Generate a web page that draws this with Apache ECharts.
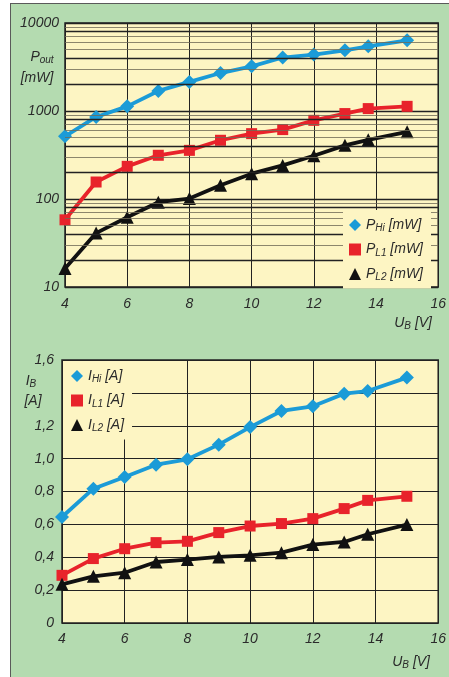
<!DOCTYPE html>
<html>
<head>
<meta charset="utf-8">
<script src="https://cdn.jsdelivr.net/npm/echarts@6/dist/echarts.min.js"></script>
<style>
html,body{margin:0;padding:0;background:#ffffff;}
#panel{position:absolute;left:10px;top:3px;width:445px;height:680px;background:#b4dbb0;border-left:1px solid #5a5a5a;border-top:1px solid #5a5a5a;}
#chart{position:absolute;left:0;top:0;width:449px;height:677px;}
</style>
</head>
<body>
<div id="panel"></div>
<div id="chart"></div>
<script>
// ---- data ----
var voltage = [4, 5, 6, 7, 8, 9, 10, 11, 12, 13, 13.75, 15];
var pHi = [516, 855, 1130, 1690, 2140, 2700, 3220, 4050, 4380, 4900, 5440, 6360];
var pL1 = [58, 156, 235, 314, 357, 465, 553, 615, 783, 935, 1065, 1130];
var pL2 = [16.2, 41, 62, 92, 101, 143, 194, 241, 310, 407, 470, 580];
var iHi = [0.645, 0.817, 0.888, 0.963, 0.996, 1.085, 1.192, 1.29, 1.318, 1.395, 1.411, 1.493];
var iL1 = [0.29, 0.392, 0.452, 0.489, 0.497, 0.55, 0.59, 0.605, 0.635, 0.696, 0.746, 0.771];
var iL2 = [0.235, 0.284, 0.306, 0.371, 0.386, 0.402, 0.412, 0.428, 0.477, 0.493, 0.54, 0.599];
var powerTicks = [10, 100, 1000, 10000];
var currentTicks = [0, 0.2, 0.4, 0.6, 0.8, 1.0, 1.2, 1.4, 1.6];
var voltageTicks = [4, 6, 8, 10, 12, 14, 16];
var gridStrong = [20, 40, 80, 200, 400, 800, 2000, 4000, 8000];
var gridWeak = [30, 50, 60, 70, 90, 300, 500, 600, 700, 900, 3000, 5000, 6000, 7000, 9000];

var FONT = '"Liberation Sans", Arial, sans-serif';
var TXT = '#2b2b2b';
var BLUE = '#1b9bd7', RED = '#e8232b', BLACK = '#111111';
var YELLOW = '#fdf5c3';

function pair(xs, ys) { return xs.map(function (x, i) { return [x, ys[i]]; }); }

var richEC = {
  b: { fontSize: 14, fontStyle: 'italic', fontFamily: FONT, color: TXT },
  s: { fontSize: 10, fontStyle: 'italic', fontFamily: FONT, color: TXT, padding: [7, 0, 0, 0] }
};
var richZR = {
  b: { fontSize: 14, fontStyle: 'italic', fontFamily: FONT, fill: TXT },
  s: { fontSize: 10, fontStyle: 'italic', fontFamily: FONT, fill: TXT, padding: [7, 0, 0, 0] }
};
var subs = { PHi: ['P', 'Hi', ' [mW]'], PL1: ['P', 'L1', ' [mW]'], PL2: ['P', 'L2', ' [mW]'],
             IHi: ['I', 'Hi', ' [A]'], IL1: ['I', 'L1', ' [A]'], IL2: ['I', 'L2', ' [A]'] };
function legendFmt(name) { var p = subs[name]; return '{b|' + p[0] + '}{s|' + p[1] + '}{b|' + p[2] + '}'; }

var axisLabel = { fontSize: 14, fontStyle: 'italic', fontFamily: FONT, color: TXT };

function lineSeries(name, data, color, symbol, size, xi) {
  return {
    name: name, type: 'line', xAxisIndex: xi, yAxisIndex: xi, data: data,
    symbol: symbol, symbolSize: size, showSymbol: true,
    lineStyle: { color: color, width: 3.8 },
    itemStyle: { color: color },
    animation: false, z: 3
  };
}
function gridLines(vals, color, width) {
  return {
    type: 'line', xAxisIndex: 0, yAxisIndex: 0, data: [], silent: true, animation: false, z: 2,
    markLine: {
      silent: true, symbol: 'none', animation: false, label: { show: false },
      lineStyle: { color: color, width: width, type: 'solid' },
      data: vals.map(function (v) { return { yAxis: v }; })
    }
  };
}

var chart = echarts.init(document.getElementById('chart'), null, { renderer: 'canvas' });
chart.setOption({
  animation: false,
  grid: [
    { left: 65, top: 23, width: 378, height: 264, show: true, backgroundColor: YELLOW, borderColor: '#222', borderWidth: 1.5 },
    { left: 62, top: 360, width: 377, height: 263, show: true, backgroundColor: YELLOW, borderColor: '#222', borderWidth: 1.5 }
  ],
  xAxis: [
    { type: 'value', gridIndex: 0, min: voltageTicks[0], max: voltageTicks[voltageTicks.length - 1], interval: 2,
      axisLine: { show: false }, axisTick: { show: false },
      axisLabel: Object.assign({ margin: 10 }, axisLabel),
      splitLine: { show: true, lineStyle: { color: '#222', width: 1 } } },
    { type: 'value', gridIndex: 1, min: voltageTicks[0], max: voltageTicks[voltageTicks.length - 1], interval: 2,
      axisLine: { show: false }, axisTick: { show: false },
      axisLabel: Object.assign({ margin: 9 }, axisLabel),
      splitLine: { show: true, lineStyle: { color: '#222', width: 1 } } }
  ],
  yAxis: [
    { type: 'log', gridIndex: 0, min: powerTicks[0], max: powerTicks[powerTicks.length - 1], logBase: 10,
      axisLine: { show: false }, axisTick: { show: false },
      axisLabel: Object.assign({ margin: 6, formatter: function (v) { return String(Math.round(v)); } }, axisLabel),
      splitLine: { show: true, lineStyle: { color: '#222', width: 1.3 } } },
    { type: 'value', gridIndex: 1, min: currentTicks[0], max: currentTicks[currentTicks.length - 1], interval: 0.2,
      axisLine: { show: false }, axisTick: { show: false },
      axisLabel: Object.assign({ margin: 8, formatter: function (v) {
        if (Math.abs(v - 1.4) < 1e-6) return '';
        return v === 0 ? '0' : v.toFixed(1).replace('.', ',');
      } }, axisLabel),
      splitLine: { show: true, lineStyle: { color: '#222', width: 1 } } }
  ],
  legend: [
    { show: true, orient: 'vertical', left: 343, top: 210, padding: [8, 8, 6, 6], itemGap: 9,
      itemWidth: 12, itemHeight: 12, backgroundColor: YELLOW, z: 10,
      data: [{ name: 'PHi', icon: 'diamond' }, { name: 'PL1', icon: 'rect' }, { name: 'PL2', icon: 'triangle' }],
      formatter: legendFmt, textStyle: { rich: richEC }, selectedMode: false },
    { show: true, orient: 'vertical', left: 63, top: 361, padding: [8, 8, 6, 8], itemGap: 9,
      itemWidth: 12, itemHeight: 12, backgroundColor: YELLOW, z: 10,
      data: [{ name: 'IHi', icon: 'diamond' }, { name: 'IL1', icon: 'rect' }, { name: 'IL2', icon: 'triangle' }],
      formatter: legendFmt, textStyle: { rich: richEC }, selectedMode: false }
  ],
  graphic: [
    { type: 'text', x: 42, y: 57, style: { text: '{b|P}{s|out}', rich: richZR, align: 'center', verticalAlign: 'middle' } },
    { type: 'text', x: 37, y: 78, style: { text: '{b|[mW]}', rich: richZR, align: 'center', verticalAlign: 'middle' } },
    { type: 'text', x: 432, y: 323, style: { text: '{b|U}{s|B}{b| [V]}', rich: richZR, align: 'right', verticalAlign: 'middle' } },
    { type: 'text', x: 31, y: 381, style: { text: '{b|I}{s|B}', rich: richZR, align: 'center', verticalAlign: 'middle' } },
    { type: 'text', x: 33, y: 401, style: { text: '{b|[A]}', rich: richZR, align: 'center', verticalAlign: 'middle' } },
    { type: 'text', x: 430, y: 662, style: { text: '{b|U}{s|B}{b| [V]}', rich: richZR, align: 'right', verticalAlign: 'middle' } }
  ],
  series: [
    gridLines(gridWeak, '#6e6a55', 0.8),
    gridLines(gridStrong, '#222', 1.3),
    lineSeries('PHi', pair(voltage, pHi), BLUE, 'diamond', 14, 0),
    lineSeries('PL1', pair(voltage, pL1), RED, 'rect', 11, 0),
    lineSeries('PL2', pair(voltage, pL2), BLACK, 'triangle', 13, 0),
    lineSeries('IHi', pair(voltage, iHi), BLUE, 'diamond', 14, 1),
    lineSeries('IL1', pair(voltage, iL1), RED, 'rect', 11, 1),
    lineSeries('IL2', pair(voltage, iL2), BLACK, 'triangle', 13, 1)
  ]
});
</script>
</body>
</html>
